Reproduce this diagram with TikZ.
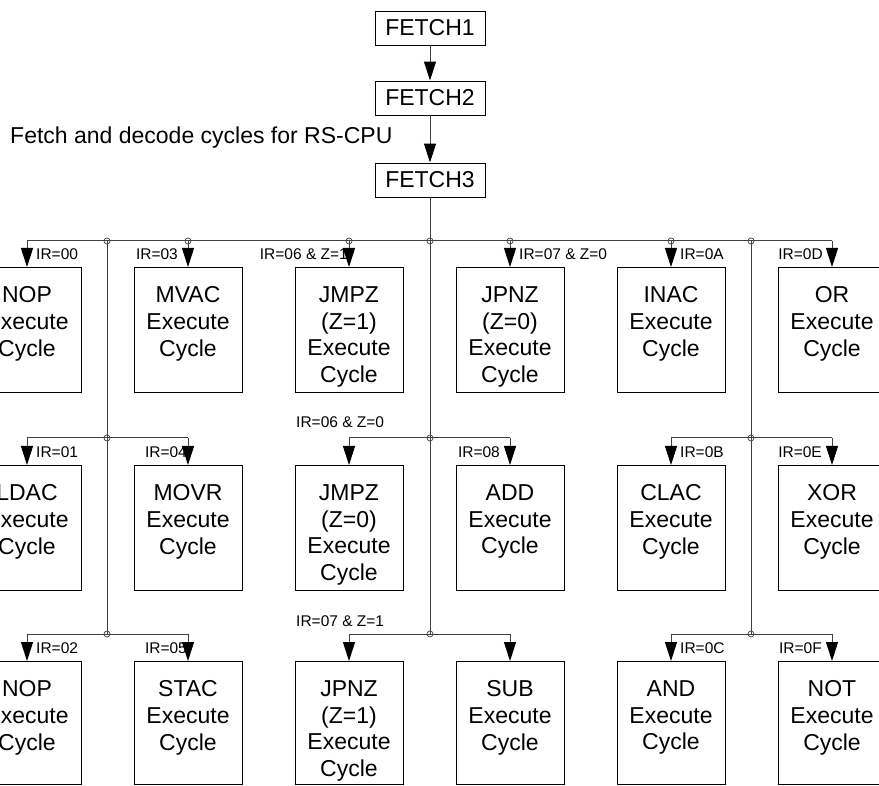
\documentclass[tikz,border=0pt]{standalone}
\usepackage{fontspec}
\setmainfont{Liberation Sans}
\usetikzlibrary{arrows.meta}
\begin{document}
\begin{tikzpicture}[x=1pt,y=-1pt,
  conn/.style={draw=black!75, line width=1pt},
  arr/.style={-{Triangle[width=12pt,length=19pt,fill=black,color=black]}},
  fbox/.style={draw=black, line width=0.9pt, minimum width=110pt, minimum height=34pt, inner sep=0pt,
    font=\fontsize{23}{26.7}\selectfont},
  cbox/.style={draw=black, line width=0.9pt, minimum width=108pt, minimum height=125pt, anchor=north, inner sep=0pt},
  ctext/.style={anchor=north, inner sep=0pt, align=center, font=\fontsize{23}{26.7}\selectfont},
  lab/.style={inner sep=0pt, font=\fontsize{15.5}{18}\selectfont},
  captext/.style={inner sep=0pt, font=\fontsize{23}{26}\selectfont}]
\useasboundingbox (0,0) rectangle (879,786);
\clip (0,0) rectangle (879,786);
\fill[white] (0,0) rectangle (879,786);

% fetch boxes
\node[fbox] (f1) at (430,28) {FETCH1};
\node[fbox] (f2) at (430,98) {FETCH2};
\node[fbox] (f3) at (430,180) {FETCH3};
\node[captext, anchor=base west] (caption) at (10,144) {Fetch and decode cycles for RS-CPU};

% execute boxes
\foreach \n/\x/\y/\h/\t in {
  b11/27/267/125/{NOP\\Execute\\Cycle},
  b12/188/267/125/{MVAC\\Execute\\Cycle},
  b13/349/267/125/{JMPZ\\(Z=1)\\Execute\\Cycle},
  b14/510/267/125/{JPNZ\\(Z=0)\\Execute\\Cycle},
  b15/671/267/125/{INAC\\Execute\\Cycle},
  b16/832/267/125/{OR\\Execute\\Cycle},
  b21/27/465/125/{LDAC\\Execute\\Cycle},
  b22/188/465/125/{MOVR\\Execute\\Cycle},
  b23/349/465/125/{JMPZ\\(Z=0)\\Execute\\Cycle},
  b24/510/465/125/{ADD\\Execute\\Cycle},
  b25/671/465/125/{CLAC\\Execute\\Cycle},
  b26/832/465/125/{XOR\\Execute\\Cycle},
  b31/27/661/123/{NOP\\Execute\\Cycle},
  b32/188/661/123/{STAC\\Execute\\Cycle},
  b33/349/661/123/{JPNZ\\(Z=1)\\Execute\\Cycle},
  b34/510/661/123/{SUB\\Execute\\Cycle},
  b35/671/661/123/{AND\\Execute\\Cycle},
  b36/832/661/123/{NOT\\Execute\\Cycle}}{
  \node[cbox, minimum height=\h pt] (\n) at (\x,\y) {};
  \node[ctext] (\n t) at (\x,\y+19.5) {\t};
}

% labels
\node[lab, anchor=base west] (l00) at (36,260) {IR=00};
\node[lab, anchor=base east] (l03) at (178,260) {IR=03};
\node[lab, anchor=base east] (l06a) at (348,260) {IR=06 \& Z=1};
\node[lab, anchor=base west] (l07a) at (519,260) {IR=07 \& Z=0};
\node[lab, anchor=base west] (l0A) at (680,260) {IR=0A};
\node[lab, anchor=base east] (l0D) at (823,260) {IR=0D};

\node[lab, anchor=base west] (l01) at (36,457) {IR=01};
\node[lab, anchor=base east] (l04) at (187,457) {IR=04};
\node[lab, anchor=base west] (l06b) at (296,428) {IR=06 \& Z=0};
\node[lab, anchor=base east] (l08) at (500,457) {IR=08};
\node[lab, anchor=base west] (l0B) at (680,457) {IR=0B};
\node[lab, anchor=base east] (l0E) at (822,457) {IR=0E};

\node[lab, anchor=base west] (l02) at (36,653) {IR=02};
\node[lab, anchor=base east] (l05) at (187,653) {IR=05};
\node[lab, anchor=base west] (l07b) at (296,626) {IR=07 \& Z=1};
\node[lab, anchor=base west] (l0C) at (680,653) {IR=0C};
\node[lab, anchor=base east] (l0F) at (822,653) {IR=0F};

% fetch arrows
\draw[conn, arr] (f1.south) -- (f2.north);
\draw[conn, arr] (f2.south) -- (f3.north);

% bus coordinates
\coordinate (h1) at (430,241);
\coordinate (a1) at (107,241);
\coordinate (a2) at (107,438);
\coordinate (a3) at (107,634);
\coordinate (m2) at (430,438);
\coordinate (m3) at (430,634);
\coordinate (c1) at (751,241);
\coordinate (c2) at (751,438);
\coordinate (c3) at (751,634);

% main vertical and side verticals
\draw[conn] (f3.south) -- (m3);
\draw[conn] (a1) -- (a3);
\draw[conn] (c1) -- (c3);

% row 1
\draw[conn] (b11.north |- h1) -- (b16.north |- h1);
\foreach \b in {b11,b12,b13,b14,b15,b16}
  \draw[conn, arr] (\b.north |- h1) -- (\b.north);
% row 2
\draw[conn] (b21.north |- a2) -- (b22.north |- a2);
\draw[conn] (b23.north |- m2) -- (b24.north |- m2);
\draw[conn] (b25.north |- c2) -- (b26.north |- c2);
\foreach \b in {b21,b22,b23,b24,b25,b26}
  \draw[conn, arr] (\b.north |- a2) -- (\b.north);
% row 3
\draw[conn] (b31.north |- a3) -- (b32.north |- a3);
\draw[conn] (b33.north |- m3) -- (b34.north |- m3);
\draw[conn] (b35.north |- c3) -- (b36.north |- c3);
\foreach \b in {b31,b32,b33,b34,b35,b36}
  \draw[conn, arr] (\b.north |- a3) -- (\b.north);

% junction circles
\foreach \p in {a1,a2,a3,h1,m2,m3,c1,c2,c3}
  \draw[conn, line width=0.7pt] (\p) circle (3pt);
\foreach \b in {b12,b13,b14,b15}
  \draw[conn, line width=0.7pt] (\b.north |- h1) circle (3pt);
\end{tikzpicture}
\end{document}
